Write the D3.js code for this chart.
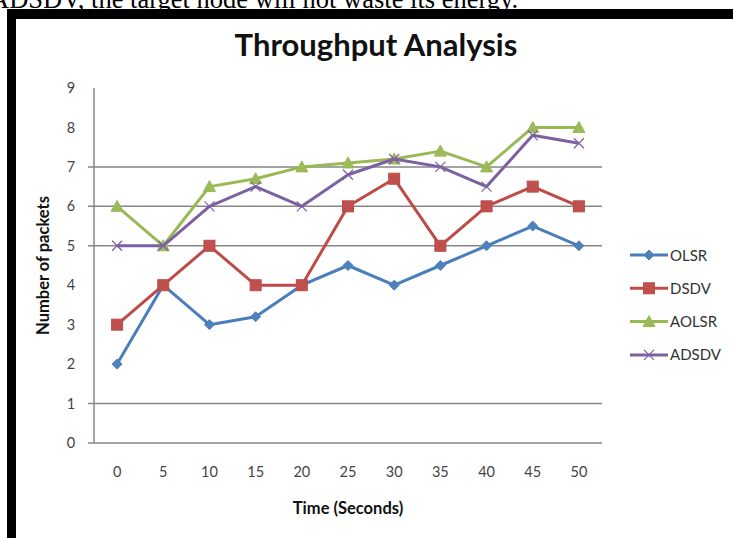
<!DOCTYPE html>
<html>
<head>
<meta charset="utf-8">
<script src="https://cdn.jsdelivr.net/npm/d3@7"></script>
<style>
  html, body { margin: 0; padding: 0; background: #fff; }
  svg { display: block; }
</style>
</head>
<body>
<svg id="chart" width="733" height="538"></svg>
<script>
// Time points (seconds) along the category axis
const times = ["0", "5", "10", "15", "20", "25", "30", "35", "40", "45", "50"];

// Throughput (number of packets) per protocol
const olsr  = [2, 4, 3, 3.2, 4, 4.5, 4, 4.5, 5, 5.5, 5];
const dsdv  = [3, 4, 5, 4, 4, 6, 6.7, 5, 6, 6.5, 6];
const aolsr = [6, 5, 6.5, 6.7, 7, 7.1, 7.2, 7.4, 7, 8, 8];
const adsdv = [5, 5, 6, 6.5, 6, 6.8, 7.2, 7, 6.5, 7.8, 7.6];

const seriesNames = ["OLSR", "DSDV", "AOLSR", "ADSDV"];
const yTicks = [0, 1, 2, 3, 4, 5, 6, 7, 8, 9];
const gridValues = [1, 5, 6, 7];

const series = [
  { name: seriesNames[0], values: olsr,  color: "#4A7EBB", fill: "#4F81BD", marker: "diamond" },
  { name: seriesNames[1], values: dsdv,  color: "#BE4B48", fill: "#C0504D", marker: "square" },
  { name: seriesNames[2], values: aolsr, color: "#98B954", fill: "#9BBB59", marker: "triangle" },
  { name: seriesNames[3], values: adsdv, color: "#7D60A0", fill: "#8064A2", marker: "cross" }
];

const svg = d3.select("#chart");
const fontSans = "Lato, 'Open Sans', sans-serif";

// Caption fragment from the surrounding text (clipped by the top edge)
svg.append("text")
  .attr("x", -10).attr("y", 8)
  .attr("font-family", "'Liberation Serif', 'Times New Roman', serif")
  .attr("font-size", 26.5)
  .attr("fill", "#000")
  .text("ADSDV, the target node will not waste its energy.");

// Thick black frame on top and left
svg.append("rect").attr("x", 7).attr("y", 9).attr("width", 740).attr("height", 10).attr("fill", "#000");
svg.append("rect").attr("x", 7).attr("y", 9).attr("width", 9).attr("height", 540).attr("fill", "#000");

const plot = { left: 94, right: 602, top: 88, bottom: 443 };

const x = d3.scaleBand().domain(times).range([plot.left, plot.right]).padding(0);
const y = d3.scaleLinear().domain([0, 9]).range([plot.bottom, plot.top]);
const cx = d => x(d) + x.bandwidth() / 2;

// Title
svg.append("text")
  .attr("x", 376).attr("y", 56)
  .attr("text-anchor", "middle")
  .attr("font-family", fontSans)
  .attr("font-weight", "bold")
  .attr("font-size", 31)
  .attr("fill", "#111")
  .text("Throughput Analysis");

// Horizontal gridlines
svg.append("g").selectAll("line")
  .data(gridValues)
  .join("line")
  .attr("x1", plot.left - 6).attr("x2", plot.right)
  .attr("y1", d => y(d)).attr("y2", d => y(d))
  .attr("stroke", "#868686").attr("stroke-width", 1.5);

// Y axis labels
const yAxis = d3.axisLeft(y).tickValues(yTicks).tickSize(0).tickPadding(0).tickFormat(d3.format("d"));
const gy = svg.append("g").attr("transform", `translate(${plot.left - 23},0)`).call(yAxis);
gy.select(".domain").remove();
gy.selectAll("text")
  .attr("text-anchor", "middle")
  .attr("font-family", fontSans)
  .attr("font-size", 14.5)
  .attr("fill", "#444");

// X axis labels
const xAxis = d3.axisBottom(x).tickSize(0).tickPadding(0);
const gx = svg.append("g").attr("transform", `translate(0,${plot.bottom + 24})`).call(xAxis);
gx.select(".domain").remove();
gx.selectAll("text")
  .attr("font-family", fontSans)
  .attr("font-size", 14.5)
  .attr("fill", "#444");

// Axis lines
svg.append("line")
  .attr("x1", plot.left).attr("x2", plot.left)
  .attr("y1", plot.top).attr("y2", plot.bottom)
  .attr("stroke", "#868686").attr("stroke-width", 1.5);
svg.append("line")
  .attr("x1", plot.left - 6).attr("x2", plot.right)
  .attr("y1", y(0)).attr("y2", y(0))
  .attr("stroke", "#868686").attr("stroke-width", 1.5);

// Axis titles
svg.append("text")
  .attr("x", (plot.left + plot.right) / 2).attr("y", 514)
  .attr("text-anchor", "middle")
  .attr("font-family", fontSans)
  .attr("font-weight", "bold")
  .attr("font-size", 16.5)
  .attr("fill", "#111")
  .text("Time (Seconds)");

svg.append("text")
  .attr("transform", `translate(49,${(plot.top + plot.bottom) / 2}) rotate(-90)`)
  .attr("text-anchor", "middle")
  .attr("font-family", fontSans)
  .attr("font-weight", "bold")
  .attr("font-size", 16.5)
  .attr("fill", "#111")
  .text("Number of packets");

// Marker drawing
function drawMarker(g, type, s) {
  if (type === "diamond") {
    g.append("path").attr("d", `M0,${-5}L5,0L0,5L-5,0Z`).attr("fill", s.fill).attr("stroke", s.color).attr("stroke-width", 1);
  } else if (type === "square") {
    g.append("rect").attr("x", -5.5).attr("y", -5.5).attr("width", 11).attr("height", 11).attr("fill", s.fill).attr("stroke", s.color).attr("stroke-width", 1);
  } else if (type === "triangle") {
    g.append("path").attr("d", `M0,-6L6,5L-6,5Z`).attr("fill", s.fill).attr("stroke", s.color).attr("stroke-width", 1);
  } else if (type === "cross") {
    g.append("path").attr("d", `M-5,-5L5,5M-5,5L5,-5`).attr("stroke", s.color).attr("stroke-width", 1.2).attr("fill", "none");
  }
}

const line = d3.line().x((d, i) => cx(times[i])).y(d => y(d));

series.forEach(s => {
  const g = svg.append("g");
  g.append("path")
    .attr("d", line(s.values))
    .attr("fill", "none")
    .attr("stroke", s.color)
    .attr("stroke-width", 3)
    .attr("stroke-linejoin", "round");
  s.values.forEach((v, i) => {
    const m = g.append("g").attr("transform", `translate(${cx(times[i])},${y(v)})`);
    drawMarker(m, s.marker, s);
  });
});

// Legend
const legend = svg.append("g");
series.forEach((s, i) => {
  const ly = 255 + i * 33.3;
  const row = legend.append("g");
  row.append("line").attr("x1", 630).attr("x2", 668).attr("y1", ly).attr("y2", ly)
    .attr("stroke", s.color).attr("stroke-width", 3);
  const m = row.append("g").attr("transform", `translate(649,${ly})`);
  drawMarker(m, s.marker, s);
  row.append("text").attr("x", 670).attr("y", ly + 5.5)
    .attr("font-family", fontSans)
    .attr("font-size", 15)
    .attr("fill", "#333")
    .text(s.name);
});
</script>
</body>
</html>
